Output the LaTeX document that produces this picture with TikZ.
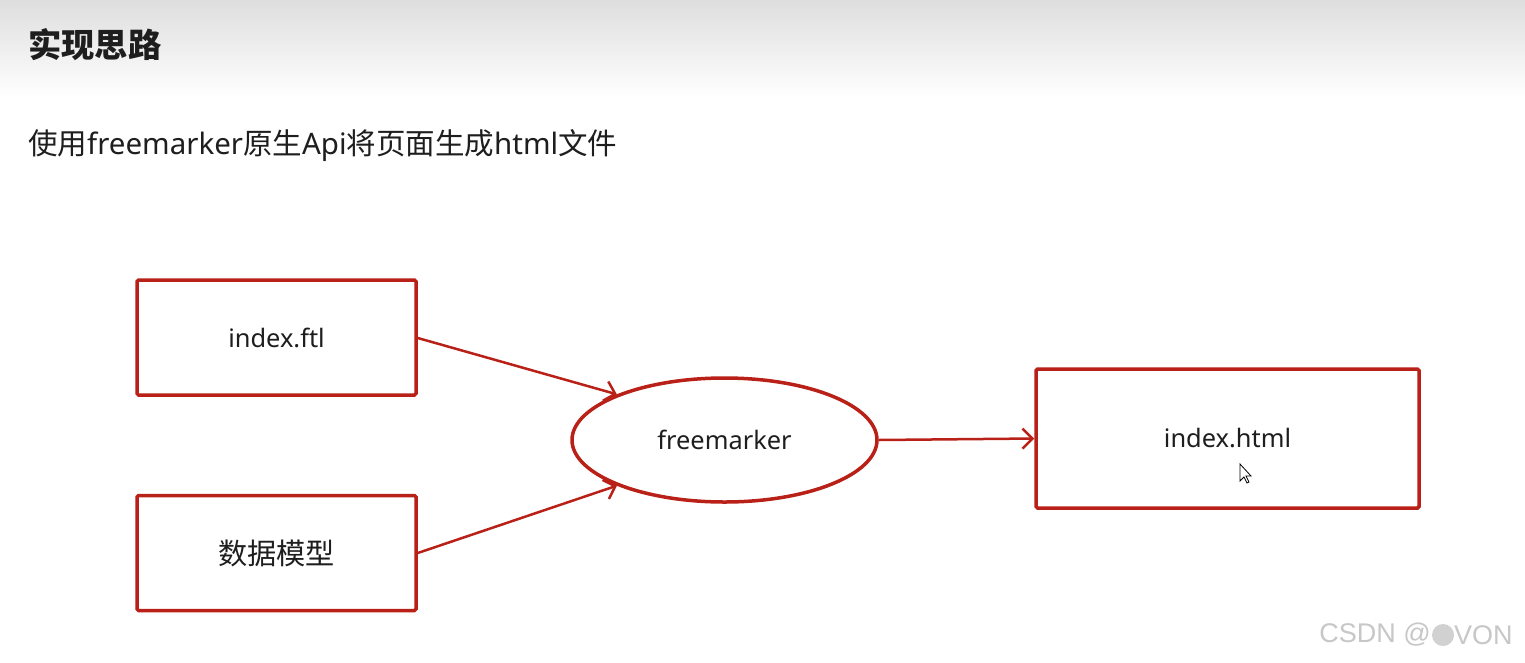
\documentclass[tikz,border=0pt]{standalone}
\usepackage{fontspec}
\setmainfont{Noto Sans}
\newfontfamily\cjk{Noto Sans CJK SC}
\newfontfamily\wmfont{Liberation Sans}
\usetikzlibrary{arrows.meta,shapes.geometric,positioning}
\definecolor{boxred}{RGB}{184,32,24}
\definecolor{hdrgray}{RGB}{222,222,222}
\definecolor{txt}{RGB}{30,30,30}
\tikzset{
  redbox/.style={draw=boxred, line width=3.5pt, rounded corners=1.5pt, minimum width=279pt, minimum height=115pt, inner sep=0pt, font=\fontsize{25.4}{30}\selectfont, text=txt},
  redell/.style={ellipse, draw=boxred, line width=3.5pt, minimum width=305pt, minimum height=124pt, inner sep=0pt, font=\fontsize{25.4}{30}\selectfont, text=txt},
  conn/.style={draw=boxred, line width=2.5pt, -{Straight Barb[length=10pt,width=20pt,line width=2.5pt]}},
  wm/.style={inner sep=0pt, font=\wmfont\fontsize{27}{30}\selectfont, text=black!22}
}
\begin{document}
\begin{tikzpicture}[x=1pt,y=-1pt]
\useasboundingbox (0,0) rectangle (1525,662);
\fill[white] (0,0) rectangle (1525,662);
\shade[top color=hdrgray, bottom color=white] (0,0) rectangle (1525,98);
\node[anchor=west, inner sep=0pt, font=\cjk\fontsize{33.3}{38}\selectfont\bfseries, text=txt] (title) at (28,45) {实现思路};
\node[anchor=west, inner sep=0pt, font=\fontsize{29.5}{34}\selectfont, text=txt] (sub) at (28,146) {{\cjk 使用}freemarker{\cjk 原生}Api{\cjk 将页面生成}html{\cjk 文件}};

\node[redbox] (ftl) at (276.5,337.5) {index.ftl};
\node[redbox, font=\cjk\fontsize{29.2}{34}\selectfont] (model) at (276.5,553) {数据模型};
\node[redell] (fm) at (724.5,440) {freemarker};
\node[redbox, minimum width=383pt, minimum height=139pt] (html) at (1227.5,438.5) {index.html};

\draw[conn] (ftl.east |- 0,338) -- (fm.157);
\draw[conn] (model.east |- 0,553) -- (fm.203);
\draw[conn] (fm.east) -- (html.west);

% mouse cursor
\coordinate (cur) at (1240,464);
\draw[black, line width=0.8pt, fill=white] (cur) -- ++(0,17) -- ++(4,-4) -- ++(3,6) -- ++(2,-1) -- ++(-3,-6) -- ++(5,0) -- cycle;

% watermark
\node[wm, anchor=east] (wm1) at (1431,635) {CSDN @};
\fill[black!18] (1443,635) circle (11pt);
\node[wm, anchor=west] (wm2) at (1454,635) {VON};
\end{tikzpicture}
\end{document}
